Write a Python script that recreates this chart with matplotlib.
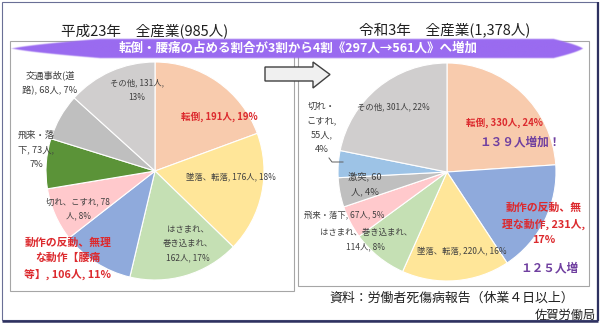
import numpy as np
import matplotlib
matplotlib.use('Agg')
import matplotlib.pyplot as plt
from matplotlib.patches import Rectangle, Polygon

plt.rcParams['font.family'] = ['Noto Sans CJK JP', 'DejaVu Sans']

# -----------------------------
# Data
# -----------------------------
title_h23 = "平成23年　全産業(985人)"
title_r3 = "令和3年　全産業(1,378人)"
banner_text = "転倒・腰痛の占める割合が3割から4割《297人→561人》へ増加"
source_text = "資料：労働者死傷病報告（休業４日以上）"
org_text = "佐賀労働局"

# H23, clockwise from 12 o'clock
counts_h23 = [191, 176, 162, 106, 78, 73, 68, 131]
pcts_h23 = [19, 18, 17, 11, 8, 7, 7, 13]
labels_h23 = ["転倒, {n}人, {p}%",
              "墜落、転落, {n}人, {p}%",
              "はさまれ、\n巻き込まれ、\n{n}人, {p}%",
              "動作の反動、無理\nな動作【腰痛\n等】, {n}人, {p}%",
              "切れ、こすれ, {n}\n人, {p}%",
              "飛来・落\n下, {n}人,\n{p}%",
              "交通事故(道\n路), {n}人, {p}%",
              "その他, {n}人,\n{p}%"]
colors_h23 = ['#F8CBAD', '#FFE699', '#C5E0B4', '#8FAADC',
              '#FFC9CC', '#5B9338', '#BFBFBF', '#D0CECE']

# R3, clockwise from 12 o'clock
counts_r3 = [330, 231, 220, 114, 67, 60, 55, 301]
pcts_r3 = [24, 17, 16, 8, 5, 4, 4, 22]
labels_r3 = ["転倒, {n}人, {p}%",
             "動作の反動、無\n理な動作, {n}人,\n{p}%",
             "墜落、転落, {n}人, {p}%",
             "はさまれ、巻き込まれ、\n{n}人, {p}%",
             "飛来・落下, {n}人, {p}%",
             "激突, {n}\n人, {p}%",
             "切れ・\nこすれ,\n{n}人,\n{p}%",
             "その他, {n}人, {p}%"]
colors_r3 = ['#F8CBAD', '#8FAADC', '#FFE699', '#C5E0B4',
             '#FFC9CC', '#BFBFBF', '#9DC3E6', '#D0CECE']

note_up1 = "１３９人増加！"
note_up2 = "１２５人増"

# -----------------------------
# Layout / styles (pixel coordinates)
# -----------------------------
RED = '#DC2A2E'
GREY = '#404040'
PURPLE = '#7040A0'

pos_h23 = [(219, 117), (231, 178), (188, 243), (68, 259),
           (78, 209), (36, 150), (50, 83), (137, 90)]
style_h23 = ['red', 'small', 'small', 'bigred', 'small', 'mid', 'mid', 'small']

pos_r3 = [(504, 123), (544, 224), (462, 252), (366, 240),
          (344, 215), (365, 184), (322, 128), (393, 107)]
style_r3 = ['red', 'bigred', 'small', 'small', 'small', 'mid', 'mid', 'small']

text_style = {
    'red': dict(color=RED, fontsize=6.9, fontweight='bold'),
    'bigred': dict(color=RED, fontsize=7.8, fontweight='bold', linespacing=1.6),
    'small': dict(color=GREY, fontsize=6.0, linespacing=1.8),
    'mid': dict(color=GREY, fontsize=6.7, linespacing=1.8),
}

fig = plt.figure(figsize=(6, 3.25), dpi=100)
fig.patch.set_facecolor('white')
ax = fig.add_axes([0, 0, 1, 1])

# outer frame with shadow
ax.add_patch(Rectangle((1.5, 1.5), 595, 318, fill=False, ec='#6A6F96', lw=0.8))
ax.plot([2, 598], [320.5, 320.5], color='#2E3160', lw=1.8, solid_capstyle='butt')
ax.plot([597.5, 597.5], [2, 321], color='#2E3160', lw=1.6, solid_capstyle='butt')

# panel boxes
ax.add_patch(Rectangle((10, 41), 284, 250, fill=False, ec='#A6A6A6', lw=0.8))
ax.add_patch(Rectangle((298, 41), 291, 245, fill=False, ec='#A6A6A6', lw=0.8))

# pies (y axis is inverted -> counterclock=True draws clockwise on screen)
wp = dict(edgecolor='white', linewidth=0.8)
ax.pie(counts_h23, colors=colors_h23, center=(155, 171), radius=109,
       startangle=-90, counterclock=True, wedgeprops=wp, frame=True)
ax.pie(counts_r3, colors=colors_r3, center=(447, 172), radius=109,
       startangle=-90, counterclock=True, wedgeprops=wp, frame=True)

for lab, n, p, (x, y), st in zip(labels_h23, counts_h23, pcts_h23, pos_h23, style_h23):
    kw = dict(text_style[st])
    kw.setdefault('linespacing', 1.6)
    ax.text(x, y, lab.format(n=n, p=p), ha='center', va='center', **kw)
for lab, n, p, (x, y), st in zip(labels_r3, counts_r3, pcts_r3, pos_r3, style_r3):
    kw = dict(text_style[st])
    kw.setdefault('linespacing', 1.6)
    ax.text(x, y, lab.format(n=n, p=p), ha='center', va='center', **kw)

# leader line for the small slice label
ax.plot([329, 332, 343], [158, 162, 162], color='#606060', lw=0.7)

ax.text(520, 142, note_up1, ha='center', va='center', color=PURPLE,
        fontsize=8.4, fontweight='bold')
ax.text(549, 268, note_up2, ha='center', va='center', color=PURPLE,
        fontsize=8.4, fontweight='bold')

# banner with tapered ends
xs = np.linspace(8, 588, 600)
ys = np.linspace(35, 61, 60)
XX, YY = np.meshgrid(xs, ys)
half = np.minimum(np.clip((XX - 10) / 90.0, 0, 1) ** 0.7,
                  np.clip((584 - XX) / 30.0, 0, 1) ** 0.7) * 10.5
alpha = np.clip((half - np.abs(YY - 48.5)) / 1.5, 0, 1)
rgba = np.zeros(XX.shape + (4,))
rgba[..., 0] = 0x9A / 255
rgba[..., 1] = 0x6B / 255
rgba[..., 2] = 0xF0 / 255
rgba[..., 3] = alpha
ax.imshow(rgba, extent=(8, 588, 61, 35), interpolation='bilinear', zorder=3)
ax.text(298, 48.5, banner_text, ha='center', va='center', color='white',
        fontsize=9.0, fontweight='bold', zorder=4)

# titles
ax.text(145, 31, title_h23, ha='center', va='center', fontsize=10.5, color='#202020')
ax.text(445, 31, title_r3, ha='center', va='center', fontsize=10.5, color='#202020')

# block arrow
arrow = Polygon([(265, 67), (313, 67), (313, 62), (330, 74.5),
                 (313, 88), (313, 81), (265, 81)], closed=True,
                fc='#F0F0F0', ec='#404040', lw=1.0, zorder=5)
ax.add_patch(arrow)

# source
ax.text(452, 298, source_text, ha='center', va='center', fontsize=9.3, color='#202020')
ax.text(596, 315, org_text, ha='right', va='center', fontsize=8.8, color='#202020')

ax.set_xlim(0, 600)
ax.set_ylim(325, 0)
ax.set_aspect('auto')
ax.axis('off')

fig.savefig('out.png', dpi=100, facecolor='white')
